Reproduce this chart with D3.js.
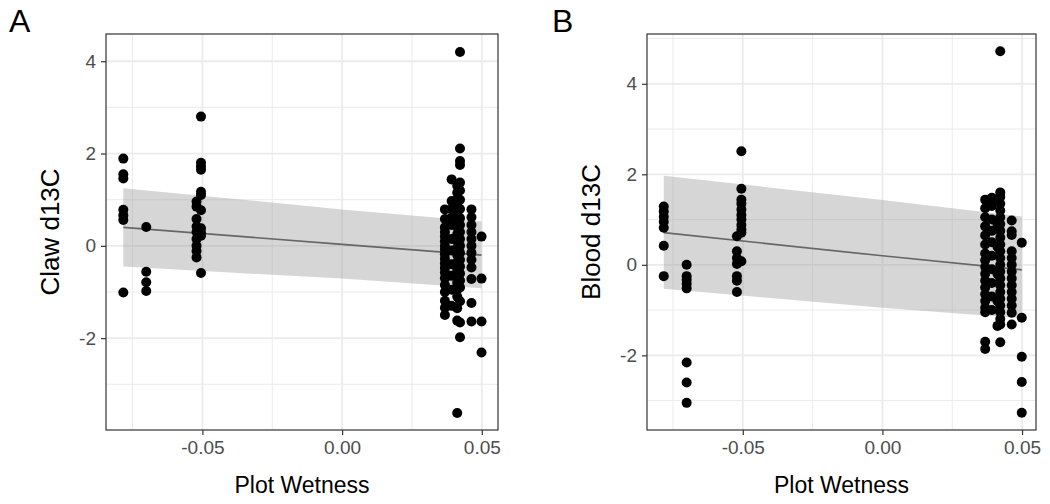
<!DOCTYPE html>
<html>
<head>
<meta charset="utf-8">
<script src="https://cdn.jsdelivr.net/npm/d3@7"></script>
<style>
  html, body { margin: 0; padding: 0; background: #fff; }
  svg { display: block; font-family: "Liberation Sans", Arial, sans-serif; }
</style>
</head>
<body>
<svg id="chart" width="1050" height="504"></svg>
<script>
// ---------- data ----------
// plot wetness of each sampling site
const sites = [-0.0783, -0.0701, -0.0521, -0.0505, 0.0368, 0.0392, 0.0412, 0.0422, 0.0463, 0.0499];

// Claw d13C values per site (same order as sites)
const claw = [
  [1.89, 1.55, 1.46, 0.78, 0.66, 0.56, -1.01],
  [0.41, -0.56, -0.79, -0.98],
  [0.96, 0.85, 0.58, 0.42, 0.30, 0.15, 0.0, -0.11, -0.25],
  [2.80, 1.80, 1.72, 1.65, 1.17, 1.10, 0.77, 0.38, 0.29, 0.22, -0.59],
  [0.79, 0.58, 0.40, 0.30, 0.20, 0.10, 0.0, -0.08, -0.18, -0.28, -0.38, -0.48, -0.58, -0.70, -0.85, -1.00, -1.19, -1.34, -1.50],
  [1.44, 0.97, 0.80, 0.62, 0.45, 0.15, -0.10, -0.40, -0.65, -0.95, -1.30],
  [1.30, 1.15, 1.00, 0.85, 0.70, 0.55, 0.40, 0.25, 0.10, -0.05, -0.20, -0.35, -0.50, -0.65, -0.80, -0.95, -1.10, -1.35, -1.62, -3.62],
  [4.20, 2.11, 1.84, 1.75, 1.37, 1.20, 1.00, 0.80, 0.60, 0.45, 0.30, 0.15, 0.0, -0.15, -0.30, -0.45, -0.60, -0.75, -0.90, -1.20, -1.66, -1.98],
  [0.79, 0.62, 0.45, 0.30, 0.15, 0.0, -0.15, -0.30, -0.47, -0.72, -1.24, -1.64],
  [0.20, -0.71, -1.64, -2.31]
];

// Blood d13C values per site
const blood = [
  [1.29, 1.18, 1.06, 0.95, 0.82, 0.42, -0.25],
  [0.0, -0.25, -0.33, -0.42, -0.52, -2.16, -2.60, -3.05],
  [0.63, 0.30, 0.15, 0.02, -0.25, -0.35, -0.60],
  [2.51, 1.68, 1.44, 1.35, 1.22, 1.10, 1.00, 0.88, 0.78, 0.71, 0.08],
  [1.44, 1.25, 1.05, 0.85, 0.65, 0.45, 0.25, 0.10, -0.05, -0.20, -0.35, -0.50, -0.65, -0.80, -0.95, -1.05, -1.70, -1.86],
  [1.48, 1.30, 1.00, 0.75, 0.50, 0.20, -0.10, -0.40, -0.70, -1.00],
  [1.45, 0.90, 0.40, -0.20, -0.80, -1.35],
  [4.72, 1.60, 1.50, 1.35, 1.20, 1.05, 0.90, 0.75, 0.60, 0.45, 0.30, 0.15, 0.0, -0.15, -0.30, -0.45, -0.60, -0.75, -0.90, -1.05, -1.20, -1.32, -1.71],
  [0.98, 0.74, 0.66, 0.30, 0.15, 0.0, -0.15, -0.30, -0.45, -0.60, -0.75, -0.90, -1.06, -1.32],
  [0.49, -1.17, -2.03, -2.59, -3.27]
];

// fitted linear trend and 95% band (x, fit, lower, upper)
const fitX = [-0.0783, 0.0, 0.0499];
const clawFit = [0.40, 0.033, -0.20];
const clawLo = [-0.45, -0.71, -0.92];
const clawHi = [1.25, 0.79, 0.53];
const bloodFit = [0.71, 0.20, -0.11];
const bloodLo = [-0.53, -0.95, -1.18];
const bloodHi = [1.97, 1.43, 1.07];

// axes
const xTicks = [-0.05, 0.0, 0.05];
const xMinor = [-0.075, -0.025, 0.025];
const xTickLabels = ["-0.05", "0.00", "0.05"];
const yTicks = [-2, 0, 2, 4];
const yTickLabels = ["-2", "0", "2", "4"];
const yMinorA = [-3, -1, 1, 3];
const yMinorB = [-3, -1, 1, 3, 5];

// ---------- drawing ----------
const svg = d3.select("#chart");
const FONT = "'Liberation Sans', Arial, sans-serif";

function drawPanel(opts) {
  const { left, right, top, bottom, xDomain, yDomain, values, fit, lo, hi, yMinor, yTitle, tag, tagX } = opts;
  const x = d3.scaleLinear().domain(xDomain).range([left, right]);
  const y = d3.scaleLinear().domain(yDomain).range([bottom, top]);
  const g = svg.append("g");

  const clipId = "clip" + tag;
  svg.append("clipPath").attr("id", clipId)
    .append("rect").attr("x", left).attr("y", top).attr("width", right - left).attr("height", bottom - top);

  // minor grid
  g.selectAll(".xmin").data(xMinor).join("line")
    .attr("x1", d => x(d)).attr("x2", d => x(d)).attr("y1", top).attr("y2", bottom)
    .attr("stroke", "#EBEBEB").attr("stroke-width", 1);
  g.selectAll(".ymin").data(yMinor.filter(v => y(v) > top && y(v) < bottom)).join("line")
    .attr("x1", left).attr("x2", right).attr("y1", d => y(d)).attr("y2", d => y(d))
    .attr("stroke", "#EBEBEB").attr("stroke-width", 1);
  // major grid
  g.selectAll(".xmaj").data(xTicks).join("line")
    .attr("x1", d => x(d)).attr("x2", d => x(d)).attr("y1", top).attr("y2", bottom)
    .attr("stroke", "#EBEBEB").attr("stroke-width", 1.8);
  g.selectAll(".ymaj").data(yTicks).join("line")
    .attr("x1", left).attr("x2", right).attr("y1", d => y(d)).attr("y2", d => y(d))
    .attr("stroke", "#EBEBEB").attr("stroke-width", 1.8);

  // confidence band
  const idx = d3.range(fitX.length);
  g.append("path")
    .datum(idx)
    .attr("clip-path", `url(#${clipId})`)
    .attr("d", d3.area().x(i => x(fitX[i])).y0(i => y(lo[i])).y1(i => y(hi[i])))
    .attr("fill", "#999999").attr("fill-opacity", 0.4);
  // fit line
  g.append("path")
    .datum(idx)
    .attr("d", d3.line().x(i => x(fitX[i])).y(i => y(fit[i])))
    .attr("fill", "none").attr("stroke", "#666666").attr("stroke-width", 1.7);

  // points
  const pts = [];
  values.forEach((arr, i) => arr.forEach(v => pts.push([sites[i], v])));
  g.selectAll(".pt").data(pts).join("circle")
    .attr("cx", d => x(d[0])).attr("cy", d => y(d[1])).attr("r", 5)
    .attr("fill", "#000");

  // border
  g.append("rect").attr("x", left).attr("y", top).attr("width", right - left).attr("height", bottom - top)
    .attr("fill", "none").attr("stroke", "#333333").attr("stroke-width", 1.2);

  // axes
  const xAxis = d3.axisBottom(x).tickValues(xTicks).tickFormat((d, i) => xTickLabels[i]).tickSize(5).tickPadding(6);
  const ax = g.append("g").attr("transform", `translate(0,${bottom})`).call(xAxis);
  ax.attr("font-size", null).attr("font-family", null);
  ax.select(".domain").remove();
  ax.selectAll(".tick line").attr("stroke", "#333333").attr("stroke-width", 1.2);
  ax.selectAll(".tick text").attr("fill", "#4D4D4D").style("font-size", "19px")
    .style("font-family", FONT);

  const yAxis = d3.axisLeft(y).tickValues(yTicks).tickFormat((d, i) => yTickLabels[i]).tickSize(5).tickPadding(5);
  const ay = g.append("g").attr("transform", `translate(${left},0)`).call(yAxis);
  ay.attr("font-size", null).attr("font-family", null);
  ay.select(".domain").remove();
  ay.selectAll(".tick line").attr("stroke", "#333333").attr("stroke-width", 1.2);
  ay.selectAll(".tick text").attr("fill", "#4D4D4D").style("font-size", "19px")
    .style("font-family", FONT);

  // titles
  g.append("text").attr("x", (left + right) / 2).attr("y", 493)
    .attr("text-anchor", "middle").style("font-size", "23px").style("font-family", FONT).attr("fill", "#000")
    .text("Plot Wetness");
  g.append("text")
    .attr("transform", `translate(${left - 47},${(top + bottom) / 2}) rotate(-90)`)
    .attr("text-anchor", "middle").style("font-size", "26px").style("font-family", FONT).attr("fill", "#000")
    .text(yTitle);
  g.append("text").attr("x", tagX).attr("y", 32)
    .style("font-size", "32px").style("font-family", FONT).attr("fill", "#000").text(tag);
}

drawPanel({
  left: 106, right: 498, top: 34, bottom: 430,
  xDomain: [-0.0845, 0.0558], yDomain: [-3.99, 4.59],
  values: claw, fit: clawFit, lo: clawLo, hi: clawHi,
  yMinor: yMinorA, yTitle: "Claw d13C", tag: "A", tagX: 9
});
drawPanel({
  left: 647, right: 1036, top: 34, bottom: 430,
  xDomain: [-0.0843, 0.0550], yDomain: [-3.65, 5.1],
  values: blood, fit: bloodFit, lo: bloodLo, hi: bloodHi,
  yMinor: yMinorB, yTitle: "Blood d13C", tag: "B", tagX: 552
});
</script>
</body>
</html>
